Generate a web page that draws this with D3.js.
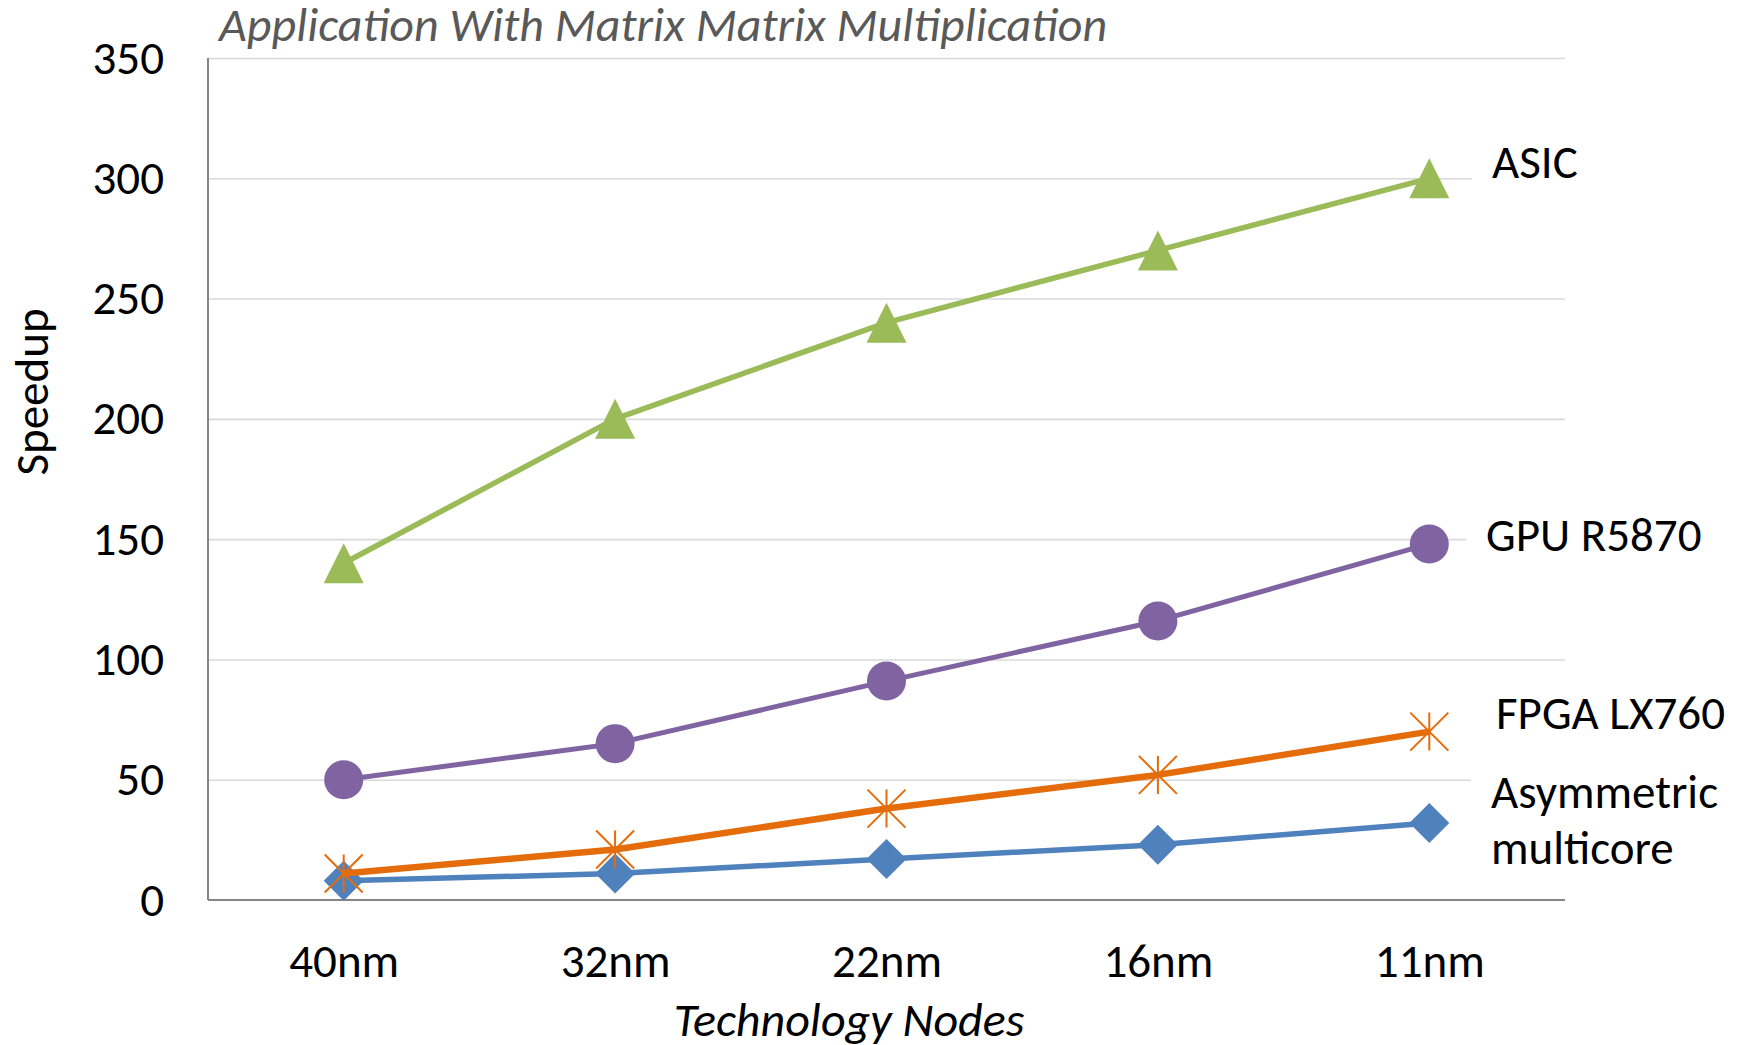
<!DOCTYPE html>
<html>
<head>
<meta charset="utf-8">
<script src="https://cdn.jsdelivr.net/npm/d3@7"></script>
<style>
  html, body { margin: 0; padding: 0; background: #fff; }
  svg { display: block; font-family: Carlito, Calibri, Lato, sans-serif; }
</style>
</head>
<body>
<svg id="chart" width="1747" height="1045"></svg>
<script>
// Technology nodes along the x axis
const nodes = ["40nm", "32nm", "22nm", "16nm", "11nm"];
const yTicks = [0, 50, 100, 150, 200, 250, 300, 350];

// Speedup per device at each node
const asicValues = [140, 200, 240, 270, 300];
const gpuValues = [50, 65, 91, 116, 148];
const fpgaValues = [11, 21, 38, 52, 70];
const multicoreValues = [8, 11, 17, 23, 32];

const seriesNames = ["Asymmetric multicore", "FPGA LX760", "GPU R5870", "ASIC"];

const series = [
  { name: seriesNames[0], values: multicoreValues, color: "#4F81BD", marker: "diamond", width: 5.5, label: ["Asymmetric", "multicore"] },
  { name: seriesNames[1], values: fpgaValues, color: "#E46C0A", marker: "star", width: 6.5, label: ["FPGA LX760"] },
  { name: seriesNames[2], values: gpuValues, color: "#8064A2", marker: "circle", width: 5, label: ["GPU R5870"] },
  { name: seriesNames[3], values: asicValues, color: "#9BBB59", marker: "triangle", width: 5.5, label: ["ASIC"] }
];

const svg = d3.select("#chart");
const plot = { left: 208, right: 1565, top: 58, bottom: 900 };
const fontSize = 47;
const fontFamily = "Carlito, Calibri, Lato, sans-serif";

const x = d3.scalePoint().domain(nodes).range([plot.left, plot.right]).padding(0.5);
const y = d3.scaleLinear().domain([0, 350]).range([plot.bottom, plot.top]);

// Horizontal gridlines
svg.append("g")
  .attr("transform", `translate(${plot.left},0)`)
  .call(d3.axisLeft(y).tickValues(yTicks.filter(d => d > 0)).tickSize(-(plot.right - plot.left)).tickFormat(""))
  .call(g => g.select(".domain").remove())
  .call(g => g.selectAll("line").attr("stroke", "#d9d9d9").attr("stroke-width", 1.6));

// Y axis labels
svg.append("g")
  .attr("transform", `translate(${plot.left},0)`)
  .call(d3.axisLeft(y).tickValues(yTicks).tickSize(0).tickPadding(44))
  .call(g => g.attr("font-family", fontFamily).attr("font-size", fontSize))
  .call(g => g.select(".domain").remove())
  .call(g => g.selectAll("text").attr("fill", "#000"));

// X axis labels
svg.append("g")
  .attr("transform", `translate(0,${plot.bottom})`)
  .call(d3.axisBottom(x).tickSize(0).tickPadding(44))
  .call(g => g.attr("font-family", fontFamily).attr("font-size", fontSize))
  .call(g => g.select(".domain").remove())
  .call(g => g.selectAll("text").attr("fill", "#000"));

// Axis lines
svg.append("line")
  .attr("x1", plot.left).attr("x2", plot.left)
  .attr("y1", plot.top).attr("y2", plot.bottom)
  .attr("stroke", "#868686").attr("stroke-width", 2);
svg.append("line")
  .attr("x1", plot.left).attr("x2", plot.right)
  .attr("y1", plot.bottom).attr("y2", plot.bottom)
  .attr("stroke", "#868686").attr("stroke-width", 2);

// Series labels on white boxes at the right edge
const labelPos = {
  "ASIC": { x: 1492, y: 178 },
  "GPU R5870": { x: 1486, y: 551 },
  "FPGA LX760": { x: 1496, y: 729 },
  "Asymmetric multicore": { x: 1491, y: 808 }
};
const lineGap = 56;
series.forEach(s => {
  const p = labelPos[s.name];
  const g = svg.append("g");
  const rect = g.append("rect").attr("fill", "#fff");
  const t = g.append("text").attr("font-size", fontSize).attr("fill", "#000");
  s.label.forEach((line, i) => {
    t.append("tspan").attr("x", p.x).attr("y", p.y + i * lineGap).text(line);
  });
  const bb = t.node().getBBox();
  rect.attr("x", bb.x - 20).attr("y", bb.y - 4).attr("width", bb.width + 30).attr("height", bb.height + 8);
});

// Lines and markers
const line = d3.line().x((d, i) => x(nodes[i])).y(d => y(d));
const markerSize = 40;

series.forEach(s => {
  svg.append("path")
    .datum(s.values)
    .attr("d", line)
    .attr("fill", "none")
    .attr("stroke", s.color)
    .attr("stroke-width", s.width)
    .attr("stroke-linejoin", "round");

  const mg = svg.append("g");
  s.values.forEach((v, i) => {
    const cx = x(nodes[i]), cy = y(v);
    const h = markerSize / 2;
    if (s.marker === "circle") {
      mg.append("circle").attr("cx", cx).attr("cy", cy).attr("r", 19.5).attr("fill", s.color);
    } else if (s.marker === "diamond") {
      mg.append("path")
        .attr("d", `M${cx},${cy - h}L${cx + h},${cy}L${cx},${cy + h}L${cx - h},${cy}Z`)
        .attr("fill", s.color);
    } else if (s.marker === "triangle") {
      mg.append("path")
        .attr("d", `M${cx},${cy - h}L${cx + h},${cy + h}L${cx - h},${cy + h}Z`)
        .attr("fill", s.color);
    } else if (s.marker === "star") {
      const r = 19;
      mg.append("path")
        .attr("d", `M${cx - r},${cy - r}L${cx + r},${cy + r}M${cx + r},${cy - r}L${cx - r},${cy + r}M${cx},${cy - r}L${cx},${cy + r}`)
        .attr("stroke", s.color).attr("stroke-width", 2).attr("fill", "none");
    }
  });
});

// Title
svg.append("text")
  .attr("x", 219).attr("y", 41)
  .attr("font-size", 48).attr("font-style", "italic").attr("fill", "#595959")
  .text("Application With Matrix Matrix Multiplication");

// Axis titles
svg.append("text")
  .attr("x", 849).attr("y", 1036)
  .attr("text-anchor", "middle")
  .attr("font-size", 48).attr("font-style", "italic").attr("fill", "#000")
  .text("Technology Nodes");

svg.append("text")
  .attr("transform", "translate(48,392) rotate(-90)")
  .attr("text-anchor", "middle")
  .attr("font-size", fontSize).attr("fill", "#000")
  .text("Speedup");
</script>
</body>
</html>
